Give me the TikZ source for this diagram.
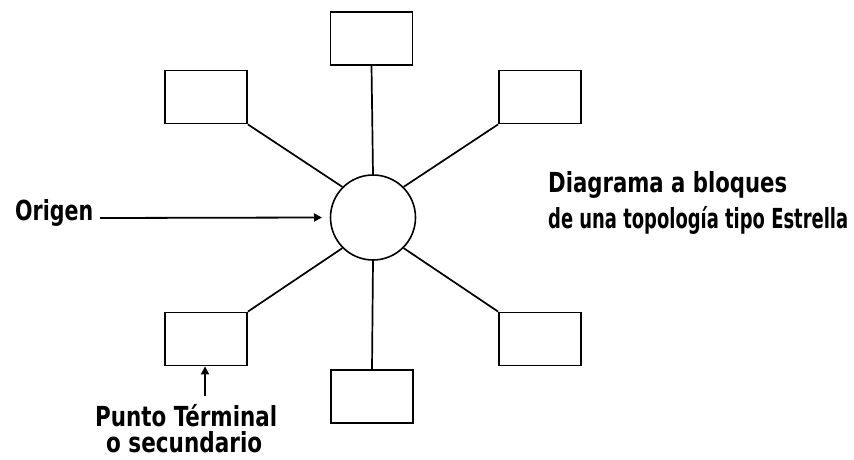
\documentclass[tikz,border=0pt]{standalone}
\usepackage{fontspec}
\usepackage{graphicx}
\newfontfamily\labelfont{DejaVu Sans Condensed}
\newcommand\fitw[2]{\resizebox{#1}{1.2\height}{#2}}
\usetikzlibrary{arrows.meta}
\begin{document}
\begin{tikzpicture}[x=1pt,y=-1pt,
  term/.style={draw,line width=1.8pt,minimum width=82pt,minimum height=53pt,inner sep=0pt},
  hub/.style={draw,circle,line width=1.6pt,minimum size=85pt,inner sep=0pt},
  link/.style={line width=1.7pt},
  lbl/.style={font=\labelfont\bfseries\fontsize{23}{26}\selectfont,inner sep=0pt,anchor=base west},
  pointer/.style={line width=1.8pt,-{Triangle[length=8pt,width=8pt]}}]
\useasboundingbox (0,0) rectangle (854,460);
\node[hub] (c) at (373,217.5) {};
\node[term] (t) at (371.5,38.5) {};
\node[term] (tl) at (206,97) {};
\node[term] (tr) at (540,97) {};
\node[term] (bl) at (206,339) {};
\node[term] (b) at (372,396.5) {};
\node[term] (br) at (540,339) {};
\draw[link] (t.south) -- (c.north);
\draw[link] (b.north) -- (c.south);
\draw[link] (tl.south east) -- (c.135);
\draw[link] (tr.south west) -- (c.45);
\draw[link] (bl.north east) -- (c.-135);
\draw[link] (br.north west) -- (c.-45);
\node[lbl] (orig) at (15,220) {\fitw{78pt}{Origen}};
\coordinate (os) at (100,218);
\draw[pointer] (os) -- (c.west -| 322,0) ;
\node[lbl] (pt1) at (95,426) {\fitw{182pt}{Punto Términal}};
\node[lbl,text depth=0pt] (pt2) at (106,452) {\fitw{156pt}{o secundario}};
\coordinate (ps) at (205,396);
\draw[pointer] (ps) -- (bl.south -| 205,0);
\node[lbl] (d1) at (548,192) {\fitw{239pt}{Diagrama a bloques}};
\node[lbl] (d2) at (548,228) {\fitw{300pt}{de una topología tipo Estrella}};
\end{tikzpicture}
\end{document}
